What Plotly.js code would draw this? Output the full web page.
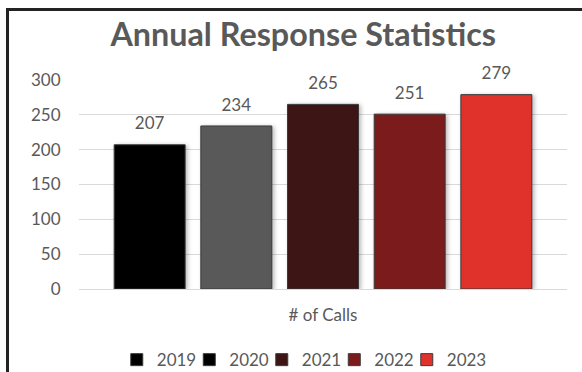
<!DOCTYPE html>
<html>
<head>
<meta charset="utf-8">
<script src="https://cdn.plot.ly/plotly-3.0.1.min.js"></script>
<style>
  html, body { margin:0; padding:0; background:#fff; }
  #wrap { position:relative; width:582px; height:372px; overflow:hidden; }
  #chart { position:absolute; left:0; top:0; width:582px; height:372px; }
  #frame { position:absolute; left:6px; top:8px; width:600px; height:400px;
           border-left:3px solid #232323; border-top:3px solid #232323; pointer-events:none; }
  .barlayer .point path { filter: drop-shadow(2px 1px 2px rgba(0,0,0,0.28)); }
  .legend .scrollbox { clip-path: none !important; }
</style>
</head>
<body>
<div id="wrap">
  <div id="chart"></div>
  <div id="frame"></div>
</div>
<script>
const categories = ['# of Calls'];
const years = ['2019', '2020', '2021', '2022', '2023'];
const calls = [207, 234, 265, 251, 279];
const barColors = ['#000000', '#595959', '#3d1515', '#7b1b1b', '#e0312a'];
const legendColors = ['#000000', '#000000', '#3d1515', '#7b1b1b', '#e0312a'];

const FONT = 'Lato, "Open Sans", sans-serif';
const GREY = '#595959';

const traces = [];
years.forEach((yr, i) => {
  traces.push({
    type: 'bar',
    x: categories,
    y: [calls[i]],
    name: yr,
    showlegend: false,
    marker: { color: barColors[i], line: { color: '#3a3a3a', width: 1 } },
    texttemplate: '<span style="font-size:17px">%{y}</span><br>&nbsp;',
    textposition: 'outside',
    textfont: { family: FONT, size: 8, color: GREY },
    cliponaxis: false,
    hoverinfo: 'skip'
  });
});
// legend entries (swatch colours as shown in the reference legend)
years.forEach((yr, i) => {
  traces.push({
    type: 'bar',
    x: categories,
    y: [null],
    name: yr,
    xaxis: 'x2',
    yaxis: 'y2',
    marker: { color: legendColors[i], line: { color: '#3a3a3a', width: 1 } },
    hoverinfo: 'skip'
  });
});

const layout = {
  width: 582,
  height: 372,
  paper_bgcolor: '#ffffff',
  plot_bgcolor: '#ffffff',
  font: { family: FONT, color: GREY, size: 17 },
  margin: { l: 79, r: 15, t: 80, b: 83, pad: 0, autoexpand: false },
  title: {
    text: '<b>Annual Response Statistics</b>',
    font: { family: FONT, size: 32.3, color: GREY },
    xref: 'container', x: 0.521, xanchor: 'center',
    yref: 'container', y: 0.907, yanchor: 'middle',
    automargin: false
  },
  barmode: 'group',
  bargap: 0.112,
  bargroupgap: 0.181,
  xaxis: {
    type: 'category', automargin: false,
    showgrid: false, zeroline: false, showline: false,
    ticks: 'outside', ticklen: 11, tickcolor: 'rgba(0,0,0,0)',
    tickfont: { family: FONT, size: 17, color: GREY }
  },
  yaxis: {
    range: [0, 300], dtick: 50, automargin: false,
    showgrid: true, gridcolor: '#d9d9d9', gridwidth: 1,
    zeroline: true, zerolinecolor: '#d9d9d9', zerolinewidth: 1,
    showline: false,
    ticks: 'outside', ticklen: 14, tickcolor: 'rgba(0,0,0,0)',
    tickfont: { family: FONT, size: 17, color: GREY }
  },
  xaxis2: { overlaying: 'x', visible: false, type: 'category' },
  yaxis2: { overlaying: 'y', visible: false, range: [0, 300] },
  showlegend: true,
  legend: {
    orientation: 'h',
    xref: 'container', yref: 'container',
    x: 0.5125, xanchor: 'center',
    y: 0.032, yanchor: 'middle',
    font: { family: FONT, size: 17, color: GREY },
    itemwidth: 30,
    entrywidth: 27.5,
    traceorder: 'normal'
  }
};

Plotly.newPlot('chart', traces, layout, { displayModeBar: false, staticPlot: true });
</script>
</body>
</html>
